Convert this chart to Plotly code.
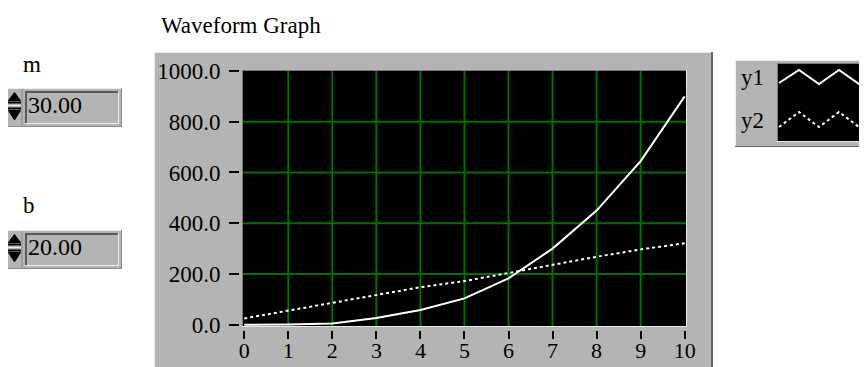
import plotly.graph_objects as go

# ---------------- data ----------------
x_vals = [0, 1, 2, 3, 4, 5, 6, 7, 8, 9, 10]
y1_vals = [0, 1, 5, 27, 58, 104, 183, 300, 450, 645, 900]
y2_vals = [25, 55, 87, 117, 148, 172, 205, 236, 268, 297, 321]
x_ticks = [0, 1, 2, 3, 4, 5, 6, 7, 8, 9, 10]
y_ticks = [0, 200, 400, 600, 800, 1000]
y_ticktext = ["0.0", "200.0", "400.0", "600.0", "800.0", "1000.0"]
grid_x = [1, 2, 3, 4, 5, 6, 7, 8, 9]
grid_y = [200, 400, 600, 800]
series_names = ["y1", "y2"]
control_labels = ["m", "b"]
control_values = ["30.00", "20.00"]
graph_title = "Waveform Graph"

# ---------------- geometry helpers (screen pixel coords) ----------------
OFF = 8                          # page body margin
SW, SH = 867, 367                # screen size
W, H = SW - OFF, SH - OFF        # figure size
L, R, T, B = 240, 686, 70, 330   # plot area in screen coords


def fx(p):
    return (p - L) / (R - L)


def fy(p):
    return (B - p) / (B - T)


FONT = "Liberation Serif"
GRAY = "#b4b4b4"
LIGHT = "#ececec"
DARK = "#646464"
GREEN = "#007000"

shapes = []


def rect(x0, y0, x1, y1, fill, line_color=None, lw=0):
    shapes.append(dict(type="rect", xref="paper", yref="paper",
                       x0=fx(x0), x1=fx(x1), y0=fy(y1), y1=fy(y0),
                       fillcolor=fill, layer="below",
                       line=dict(width=lw, color=line_color or fill)))


def hline(x0, x1, y, color, w=1, layer="below"):
    shapes.append(dict(type="line", xref="paper", yref="paper",
                       x0=fx(x0), x1=fx(x1), y0=fy(y), y1=fy(y),
                       line=dict(color=color, width=w), layer=layer))


def vline(x, y0, y1, color, w=1, layer="below"):
    shapes.append(dict(type="line", xref="paper", yref="paper",
                       x0=fx(x), x1=fx(x), y0=fy(y0), y1=fy(y1),
                       line=dict(color=color, width=w), layer=layer))


def path(points, color, w=2, dash="solid", fill=None, layer="below"):
    d = "M " + " L ".join(f"{fx(a):.5f},{fy(b):.5f}" for a, b in points)
    if fill:
        d += " Z"
    shapes.append(dict(type="path", xref="paper", yref="paper", path=d,
                       line=dict(color=color, width=w, dash=dash),
                       fillcolor=fill, layer=layer))


# graph panel
rect(154, 52, 713, 372, GRAY)
hline(154, 713, 52.5, LIGHT, 1)
vline(154.5, 52, 372, LIGHT, 1)
vline(712, 52, 372, DARK, 2)

# plot area
rect(242, 70, 686, 326, "black")
for g in grid_x:
    shapes.append(dict(type="line", xref="x", yref="paper", x0=g, x1=g,
                       y0=fy(326), y1=fy(71), layer="below",
                       line=dict(color=GREEN, width=2)))
for g in grid_y:
    shapes.append(dict(type="line", xref="paper", yref="y", y0=g, y1=g,
                       x0=fx(242), x1=fx(686), layer="below",
                       line=dict(color=GREEN, width=2)))
hline(242, 687, 70.5, "#7a7a7a", 1, layer="above")
vline(242.5, 70, 327, "#7a7a7a", 1, layer="above")
hline(242, 687, 326.5, "#e8e8e8", 1, layer="above")
vline(686.5, 70, 327, "#e8e8e8", 1, layer="above")

# legend panel
rect(735, 60, 880, 147, GRAY)
hline(735, 880, 60.5, LIGHT, 1)
vline(735.5, 60, 147, LIGHT, 1)
hline(735, 880, 146.5, DARK, 1)
rect(777, 63, 880, 141, "black")
hline(777, 880, 63.5, "#7a7a7a", 1)
vline(777.5, 63, 141, "#7a7a7a", 1)
hline(777, 880, 141.5, "#e8e8e8", 1)
path([(779, 83), (799, 70), (819, 84), (839, 70), (859, 84), (869, 76)], "white", 2)
path([(779, 127), (799, 112), (819, 127), (839, 112), (859, 127), (869, 120)], "white", 2, dash="dot")

annotations = []


def text(s, x, y, size=20, xanchor="left"):
    annotations.append(dict(text=s, x=fx(x), y=fy(y), xref="paper", yref="paper",
                            xanchor=xanchor, yanchor="middle", showarrow=False,
                            font=dict(family=FONT, size=size, color="black")))


text(graph_title, 159, 26, 23)
text(series_names[0], 739, 77, 23)
text(series_names[1], 739, 120, 23)

# numeric controls
for i, (lab, val) in enumerate(zip(control_labels, control_values)):
    oy = i * 142
    text(lab, 21, 64 + oy, 23)
    rect(7, 88 + oy, 122, 127 + oy, GRAY)
    hline(7, 122, 88.5 + oy, LIGHT, 1)
    vline(7.5, 88 + oy, 127 + oy, LIGHT, 1)
    hline(7, 122, 126.5 + oy, "#8a8a8a", 1)
    vline(121.5, 88 + oy, 127 + oy, "#8a8a8a", 1)
    # spinner
    vline(22, 89 + oy, 126 + oy, "#8a8a8a", 1)
    path([(8.5, 100.5 + oy), (14.5, 92.5 + oy), (20.5, 100.5 + oy)], "black", 1, fill="black")
    hline(8, 21, 102.5 + oy, "black", 2)
    hline(8, 21, 105.5 + oy, LIGHT, 1)
    hline(8, 21, 108.5 + oy, "black", 2)
    path([(8.5, 110.5 + oy), (14.5, 120 + oy), (20.5, 110.5 + oy)], "black", 1, fill="black")
    # text field
    hline(25, 119, 92 + oy, "#5a5a5a", 2)
    vline(26, 91 + oy, 123 + oy, "#5a5a5a", 2)
    hline(25, 119, 123.5 + oy, LIGHT, 1)
    vline(118.5, 91 + oy, 124 + oy, LIGHT, 1)
    text(val, 26, 105 + oy, 24)

fig = go.Figure()
fig.add_trace(go.Scatter(x=x_vals, y=y1_vals, mode="lines", name=series_names[0],
                         line=dict(color="white", width=2)))
fig.add_trace(go.Scatter(x=x_vals, y=y2_vals, mode="lines", name=series_names[1],
                         line=dict(color="white", width=2, dash="dot")))

fig.update_layout(
    width=W, height=H, autosize=False,
    margin=dict(l=L - OFF, r=(W + OFF) - R, t=T - OFF, b=(H + OFF) - B, pad=0,
                autoexpand=False),
    paper_bgcolor="white", plot_bgcolor="rgba(0,0,0,0)",
    showlegend=False,
    shapes=shapes, annotations=annotations,
    font=dict(family=FONT, size=22, color="black"),
    xaxis=dict(range=[-0.0965, 10.03], tickvals=x_ticks, ticks="outside",
               ticklen=8, tickwidth=2, tickcolor="black", showgrid=False,
               zeroline=False, showline=False, fixedrange=True, automargin=False,
               ticklabelstandoff=-7,
               tickfont=dict(family=FONT, size=22, color="black")),
    yaxis=dict(range=[-20.6, 1003.7], tickvals=y_ticks, ticktext=y_ticktext,
               ticks="outside", ticklen=10, tickwidth=2, tickcolor="black",
               showgrid=False, zeroline=False, showline=False, fixedrange=True,
               automargin=False, ticklabelstandoff=4,
               tickfont=dict(family=FONT, size=23, color="black")),
)

fig.write_html("out.html")
